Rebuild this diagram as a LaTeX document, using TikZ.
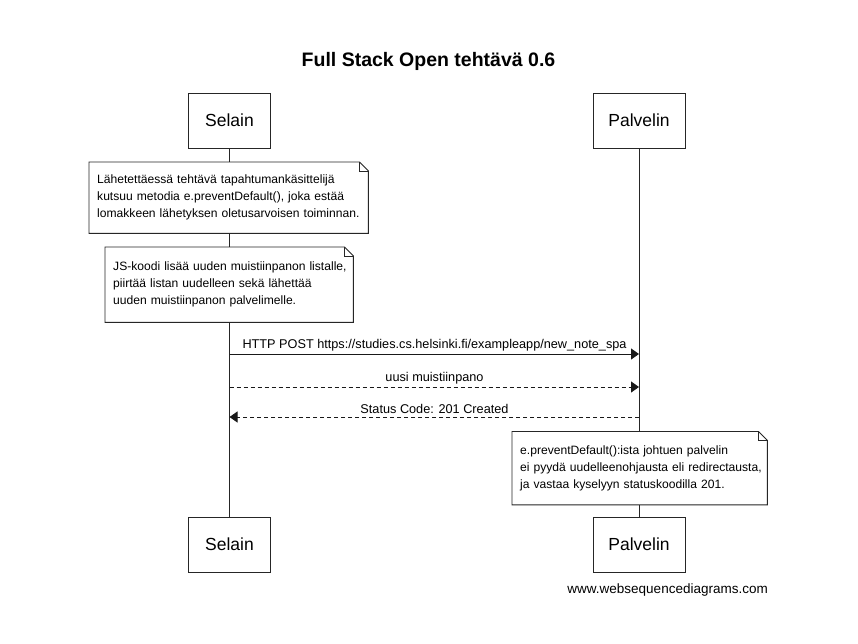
\documentclass[tikz,border=0pt]{standalone}
\usepackage{fontspec}
\setmainfont{Liberation Sans}
\usetikzlibrary{arrows.meta}
\newcommand\notefold[1]{%
  \draw[notestroke] (#1.north west) -- ([xshift=-9pt]#1.north east) -- ([yshift=-9pt]#1.north east) -- (#1.south east) -- (#1.south west) -- cycle;
  \draw[notestroke] ([xshift=-9pt]#1.north east) -- ([xshift=-9pt,yshift=-9pt]#1.north east) -- ([yshift=-9pt]#1.north east);}
\begin{document}
\begin{tikzpicture}[x=1pt,y=-1pt,
  actor/.style={draw=black!85, line width=1pt, fill=white, minimum width=#1, minimum height=55pt, inner sep=0pt, font=\fontsize{17.5}{20}\selectfont},
  life/.style={draw=black!85, line width=1pt},
  notestroke/.style={draw=black!85, line width=0.9pt},
  notebox/.style={fill=white, inner ysep=0pt, inner xsep=8pt, anchor=north west, align=left, font=\fontsize{12.1}{17}\selectfont},
  msg/.style={line width=1pt, draw=black!90, -{Triangle[length=8pt,width=11pt]}},
  reply/.style={msg, dash pattern=on 4pt off 3pt},
  lbl/.style={font=\fontsize{12.7}{15}\selectfont, anchor=base, inner sep=0pt}
]
\useasboundingbox[fill=white] (0,0) rectangle (858,643);

\node[font=\bfseries\fontsize{19.5}{22}\selectfont] (title) at (428.5,61) {Full Stack Open tehtävä 0.6};

\node[actor=82pt] (sT) at (229.5,120.5) {Selain};
\node[actor=92pt] (pT) at (639,120.5) {Palvelin};
\node[actor=82pt] (sB) at (229.5,544.5) {Selain};
\node[actor=92pt] (pB) at (639,544.5) {Palvelin};

\draw[life] (sT.south) -- (sB.north);
\draw[life] (pT.south) -- (pB.north);

\node[notebox, minimum width=279pt, minimum height=71pt, text width=263pt] (n1) at (89,162)
  {\mbox{Lähetettäessä tehtävä tapahtumankäsittelijä}\\\mbox{kutsuu metodia e.preventDefault(), joka estää}\\\mbox{lomakkeen lähetyksen oletusarvoisen toiminnan.}};
\notefold{n1}

\node[notebox, minimum width=248pt, minimum height=75pt, text width=232pt] (n2) at (105,247)
  {\mbox{JS-koodi lisää uuden muistiinpanon listalle,}\\\mbox{piirtää listan uudelleen sekä lähettää}\\\mbox{uuden muistiinpanon palvelimelle.}};
\notefold{n2}

\coordinate (s1) at (229.5,354);
\coordinate (p1) at (639,354);
\coordinate (s2) at (229.5,387);
\coordinate (p2) at (639,387);
\coordinate (s3) at (229.5,417);
\coordinate (p3) at (639,417);

\draw[msg] (s1) -- (p1);
\node[lbl] (l1) at (434.5,348.5) {HTTP POST https://studies.cs.helsinki.fi/exampleapp/new\_note\_spa};
\draw[reply] (s2) -- (p2);
\node[lbl] (l2) at (434.5,381) {uusi muistiinpano};
\draw[reply] (p3) -- (s3);
\node[lbl] (l3) at (434.5,413) {Status Code: 201 Created};

\node[notebox, minimum width=255pt, minimum height=73pt, text width=239pt] (n3) at (512,431.5)
  {\mbox{e.preventDefault():ista johtuen palvelin}\\\mbox{ei pyydä uudelleenohjausta eli redirectausta,}\\\mbox{ja vastaa kyselyyn statuskoodilla 201.}};
\notefold{n3}

\node[font=\fontsize{13.5}{16}\selectfont, anchor=east, inner sep=0pt] (wm) at (768,590) {www.websequencediagrams.com};
\end{tikzpicture}
\end{document}
